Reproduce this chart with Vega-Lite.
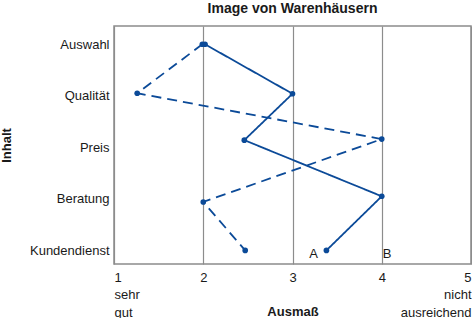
{
  "$schema": "https://vega.github.io/schema/vega-lite/v6.json",
  "width": 357,
  "height": 238,
  "autosize": "none",
  "padding": {"left": 114, "top": 26, "right": 1, "bottom": 54},
  "config": {
    "font": "Liberation Sans",
    "view": {"stroke": "#8c8c8c", "strokeWidth": 1.5},
    "axis": {"labelColor": "#1a1a1a", "titleColor": "#1a1a1a", "labelFontSize": 13, "titleFontSize": 13, "titleFontWeight": "bold", "ticks": false, "domain": false}
  },
  "title": {"text": "Image von Warenhäusern", "fontSize": 14, "fontWeight": "bold", "color": "#1a1a1a", "anchor": "middle", "offset": 10},
  "datasets": {
    "profile": [
      {"typ": "A", "merkmal": "Auswahl", "zeile": 1.0, "wert": 2.02},
      {"typ": "A", "merkmal": "Qualität", "zeile": 1.96, "wert": 3.0},
      {"typ": "A", "merkmal": "Preis", "zeile": 2.86, "wert": 2.46},
      {"typ": "A", "merkmal": "Beratung", "zeile": 3.95, "wert": 4.0},
      {"typ": "A", "merkmal": "Kundendienst", "zeile": 5.0, "wert": 3.38},
      {"typ": "B", "merkmal": "Auswahl", "zeile": 1.0, "wert": 1.99},
      {"typ": "B", "merkmal": "Qualität", "zeile": 1.95, "wert": 1.26},
      {"typ": "B", "merkmal": "Preis", "zeile": 2.84, "wert": 4.0},
      {"typ": "B", "merkmal": "Beratung", "zeile": 4.06, "wert": 2.0},
      {"typ": "B", "merkmal": "Kundendienst", "zeile": 5.0, "wert": 2.47}
    ],
    "kennung": [
      {"typ": "A", "zeile": 5.07, "wert": 3.235},
      {"typ": "B", "zeile": 5.07, "wert": 4.06}
    ]
  },
  "encoding": {
    "x": {
      "field": "wert", "type": "quantitative",
      "scale": {"domain": [1, 5], "nice": false, "zero": false},
      "axis": {
        "values": [1, 2, 3, 4, 5],
        "grid": true, "gridColor": "#8c8c8c", "gridWidth": 1.2, "gridOpacity": 1,
        "labelFlush": true, "labelLineHeight": 17.5, "labelPadding": 7,
        "labelExpr": "datum.value == 1 ? ['1', 'sehr', 'gut'] : datum.value == 5 ? ['5', 'nicht', 'ausreichend'] : datum.label",
        "title": "Ausmaß", "titleY": 51, "titleBaseline": "alphabetic"
      }
    },
    "y": {
      "field": "zeile", "type": "quantitative",
      "scale": {"domain": [0.645, 5.264], "nice": false, "zero": false, "reverse": true},
      "axis": {
        "values": [1, 2, 3, 4, 5], "grid": false, "labelPadding": 5,
        "labelExpr": "['', 'Auswahl', 'Qualität', 'Preis', 'Beratung', 'Kundendienst'][datum.value]",
        "title": "Inhalt", "titleAngle": -90, "titleX": -108, "titleY": 119, "titleAlign": "center", "titleBaseline": "middle"
      }
    }
  },
  "layer": [
    {
      "data": {"name": "profile"},
      "mark": {"type": "line", "color": "#0b4a98", "strokeWidth": 1.8},
      "encoding": {
        "detail": {"field": "typ"},
        "order": {"field": "zeile", "type": "quantitative"},
        "strokeDash": {"field": "typ", "type": "nominal", "scale": {"domain": ["A", "B"], "range": [[1, 0], [10, 6]]}, "legend": null}
      }
    },
    {
      "data": {"name": "profile"},
      "mark": {"type": "point", "filled": true, "color": "#0b4a98", "opacity": 1, "size": 32}
    },
    {
      "data": {"name": "kennung"},
      "mark": {"type": "text", "fontSize": 13, "color": "#1a1a1a", "align": "center", "baseline": "middle"},
      "encoding": {"text": {"field": "typ"}}
    }
  ]
}
